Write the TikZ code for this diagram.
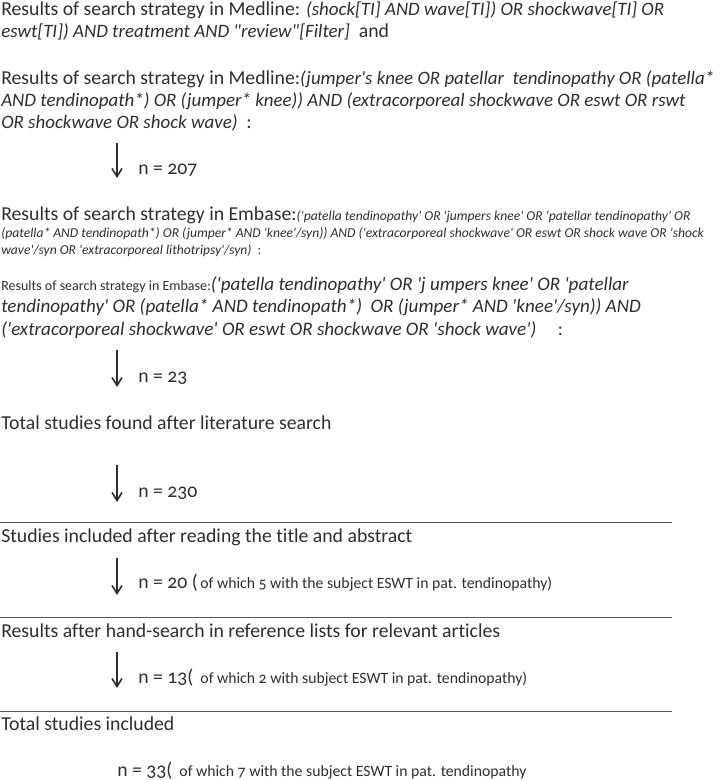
\documentclass[tikz,border=0pt]{standalone}
\usepackage{xcolor}
\usepackage{fontspec}
\setmainfont{Carlito}[Numbers=OldStyle,Ligatures={TeXOff,CommonOff}]
\usepackage{tikz}
\usetikzlibrary{arrows.meta}
\definecolor{ink}{rgb}{0.18,0.18,0.18}
\definecolor{rulegray}{rgb}{0.35,0.35,0.35}
\newcommand\qry[1]{{\fontsize{14.2}{16.5}\selectfont\itshape #1}}
\newcommand\smallnote[1]{{\fontsize{11.8}{13}\selectfont #1}}

\begin{document}
\begin{tikzpicture}[
  x=0.75pt, y=-0.75pt,
  every node/.style={text=ink}
]
\tikzset{
    block/.style = {anchor=base west, inner sep=0pt, align=left, font=\fontsize{14.8}{16.5}\selectfont},
    count/.style = {anchor=base west, inner sep=0pt, font=\fontsize{14.8}{16.5}\selectfont},
    flowarrow/.style = {-{Straight Barb[length=6pt,width=7.5pt]}, line width=1.2pt, draw=ink},
    sepline/.style = {draw=rulegray, line width=0.6pt},
}
\useasboundingbox (0,0) rectangle (719,780);

\node[block] (medlineA) at (1,38) {Results of search strategy in Medline: \qry{(shock[TI] AND wave[TI]) OR shockwave[TI] OR}\\
  \qry{eswt[TI]) AND treatment AND "review"[Filter]}\ \ and};
\node[block] (medlineB) at (1,129) {Results of search strategy in Medline:\qry{(jumper's knee OR patellar\ \ tendinopathy OR (patella*}\\
  \qry{AND tendinopath*) OR (jumper* knee)) AND (extracorporeal shockwave OR eswt OR rswt}\\
  \qry{OR shockwave OR shock wave)}\ \ :};

\coordinate (a1s) at (117,143);
\coordinate (a1e) at (117,178);
\draw[flowarrow] (a1s) -- (a1e);
\node[count] (n1) at (138,175) {n = 207};

\node[block, font=\fontsize{10.2}{12.6}\selectfont\itshape] (embaseA) at (1,254) {{\upshape\fontsize{14.8}{16.5}\selectfont Results of search strategy in Embase:}('patella tendinopathy' OR 'jumpers knee' OR 'patellar tendinopathy' OR\\
  (patella* AND tendinopath*) OR (jumper* AND 'knee'/syn)) AND ('extracorporeal shockwave' OR eswt OR shock wave OR 'shock\\
  wave'/syn OR 'extracorporeal lithotripsy'/syn)\ \ {\upshape :}};
\node[block, font=\fontsize{14.3}{16.8}\selectfont\itshape] (embaseB) at (1,335) {{\upshape\fontsize{10.5}{12}\selectfont Results of search strategy in Embase:}('patella tendinopathy' OR 'j umpers knee' OR 'patellar\\
  tendinopathy' OR (patella* AND tendinopath*)\ \ OR (jumper* AND 'knee'/syn)) AND\\
  ('extracorporeal shockwave' OR eswt OR shockwave OR 'shock wave')\ \ \ \ \ {\upshape :}};

\coordinate (a2s) at (117,350);
\coordinate (a2e) at (117,387);
\draw[flowarrow] (a2s) -- (a2e);
\node[count] (n2) at (138,382) {n = 23};

\node[block] (found) at (1,429) {Total studies found after literature search};

\coordinate (a3s) at (117,465);
\coordinate (a3e) at (117,502);
\draw[flowarrow] (a3s) -- (a3e);
\node[count] (n3) at (138,497) {n = 230};

\draw[sepline] (0,522) -- (672,522);
\node[block] (screened) at (1,542) {Studies included after reading the title and abstract};

\coordinate (a4s) at (117,558);
\coordinate (a4e) at (117,595);
\draw[flowarrow] (a4s) -- (a4e);
\node[count] (n4) at (138,588) {n = 20 (\smallnote{\,of which 5 with the subject ESWT in pat. tendinopathy)}};

\draw[sepline] (0,617) -- (672,617);
\node[block] (handsearch) at (1,637) {Results after hand-search in reference lists for relevant articles};

\coordinate (a5s) at (117,652);
\coordinate (a5e) at (117,688);
\draw[flowarrow] (a5s) -- (a5e);
\node[count] (n5) at (138,683) {n = 13(\smallnote{\ \ of which 2 with subject ESWT in pat. tendinopathy)}};

\draw[sepline] (0,711) -- (672,711);
\node[block] (included) at (1,730) {Total studies included};

\node[count] (n6) at (117,776) {n = 33(\smallnote{\ \ of which 7 with the subject ESWT in pat. tendinopathy}};

\end{tikzpicture}
\end{document}
